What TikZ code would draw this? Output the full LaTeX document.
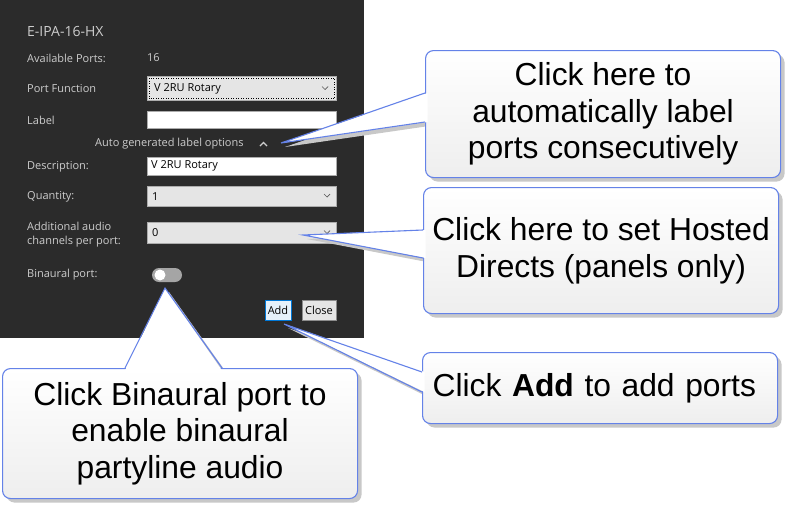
\documentclass[tikz,border=0pt]{standalone}
\usepackage{fontspec}
\setmainfont{Liberation Sans}
\newfontfamily\uifont{Open Sans}
\usetikzlibrary{shadows}
\definecolor{panelbg}{RGB}{43,43,43}
\definecolor{uitext}{RGB}{205,205,205}
\definecolor{calloutline}{RGB}{100,130,232}
\definecolor{boxbot}{RGB}{238,238,238}
\definecolor{combofill}{RGB}{229,229,229}
\definecolor{comboline}{RGB}{172,172,172}
\definecolor{addfill}{RGB}{229,241,251}
\definecolor{addline}{RGB}{0,120,215}
\definecolor{shadowgray}{RGB}{200,200,200}
\definecolor{togglegray}{RGB}{165,165,165}
\begin{document}
\begin{tikzpicture}[x=1pt,y=-1pt,
  lbl/.style={anchor=west, inner sep=0pt, text=uitext, font=\uifont\fontsize{11}{13}\selectfont},
  field/.style={anchor=north west, inner sep=0pt, fill=white, draw=comboline, line width=0.6pt},
  combo/.style={field, fill=combofill},
  fieldtext/.style={anchor=west, inner sep=0pt, text=black, font=\uifont\fontsize{11}{13}\selectfont},
  chev/.style={draw=black!65, line width=0.7pt},
  btn/.style={inner sep=0pt, minimum height=20pt, text=black, font=\uifont\fontsize{11}{13}\selectfont, line width=0.8pt},
  callbox/.style={anchor=north west, rounded corners=8pt, draw=calloutline, line width=1.1pt, top color=white, bottom color=boxbot, drop shadow={shadow xshift=4pt, shadow yshift=-4pt, fill=shadowgray, opacity=1}, align=center, font=\fontsize{31.8}{36.5}\selectfont, inner sep=0pt},
  ptrshadow/.style={fill=shadowgray},
  ptrfill/.style={fill=white},
  ptrline/.style={draw=calloutline, line width=1.1pt},
]
\useasboundingbox (0,0) rectangle (794,512);
\fill[white] (0,0) rectangle (794,512);
% dialog panel
\fill[panelbg] (0,0) rectangle (364,338);
\node[lbl, font=\uifont\fontsize{14}{16}\selectfont] (title) at (27,31) {E-IPA-16-HX};
\node[lbl] (avail) at (27,58) {Available Ports:};
\node[lbl] (availn) at (147,58) {16};
\node[lbl] (pflbl) at (27,89) {Port Function};
\node[combo, minimum width=189pt, minimum height=24pt] (pf) at (147,76) {};
\draw[dotted, black, line width=0.5pt] ([shift={(2,2)}]pf.north west) rectangle ([shift={(-2,-2)}]pf.south east);
\node[fieldtext] (pftxt) at (154,89) {V 2RU Rotary};
\draw[chev] (322,86.5) -- (325,89.5) -- (328,86.5);
\node[lbl] (labellbl) at (27,120) {Label};
\node[field, minimum width=189pt, minimum height=17pt] (labelbox) at (147,111) {};
\node[lbl] (auto) at (95,144) {Auto generated label options};
\draw[uitext, line width=1.3pt] (260,146) -- (263.5,142.5) -- (267,146);
\node[lbl] (desclbl) at (27,167) {Description:};
\node[field, minimum width=189pt, minimum height=18pt] (descbox) at (147,157) {};
\node[fieldtext] (desctxt) at (151,166) {V 2RU Rotary};
\node[lbl] (qtylbl) at (27,197) {Quantity:};
\node[combo, minimum width=189pt, minimum height=20pt] (qty) at (147,186) {};
\node[fieldtext] (qtytxt) at (152,196.5) {1};
\draw[chev] (324,194) -- (327,197) -- (330,194);
\node[lbl] (add1) at (27,226) {Additional audio};
\node[lbl] (add2) at (27,242) {channels per port:};
\node[combo, minimum width=189pt, minimum height=21pt] (chan) at (147,222) {};
\node[fieldtext] (chantxt) at (152,233) {0};
\draw[chev] (324,230.5) -- (327,233.5) -- (330,230.5);
\node[lbl] (binlbl) at (27,275) {Binaural port:};
\node[rounded corners=7pt, fill=togglegray, minimum width=30pt, minimum height=14pt, inner sep=0pt] (toggle) at (167,275) {};
\fill[white] (160,275) circle (5.5);
\node[btn, fill=addfill, draw=addline, minimum width=26pt] (addbtn) at (278,310) {Add};
\node[btn, fill=combofill, draw=black!45, minimum width=34pt] (closebtn) at (319,310) {Close};
% callout 1
\coordinate (tipA) at (281,143);
\fill[ptrshadow] (429,97) -- ([shift={(4,4)}]tipA) -- (429,126) -- cycle;
\node[callbox, minimum width=355pt, minimum height=127pt] (c1) at (425,50) {Click here to\\automatically label\\ports consecutively};
\fill[ptrfill] (427.5,93) -- (tipA) -- (427.5,122) -- cycle;
\draw[ptrline] (425,93) -- (tipA) -- (425,122);
% callout 2
\coordinate (tipB) at (303,235);
\fill[ptrshadow] (427,234) -- ([shift={(4,4)}]tipB) -- (427,262) -- cycle;
\node[callbox, minimum width=355pt, minimum height=126pt] (c2) at (423,187) {Click here to set Hosted\\Directs (panels only)};
\fill[ptrfill] (425.5,230) -- (tipB) -- (425.5,258) -- cycle;
\draw[ptrline] (423,230) -- (tipB) -- (423,258);
% callout 3
\coordinate (tipC) at (284,324);
\fill[ptrshadow] (426,376) -- ([shift={(4,4)}]tipC) -- (426,396) -- cycle;
\node[callbox, minimum width=355pt, minimum height=71pt, text width=335pt, align=left] (c3) at (422,352) {\raisebox{-3pt}{Click \textbf{Add} to add ports}};
\fill[ptrfill] (424.5,372) -- (tipC) -- (424.5,392) -- cycle;
\draw[ptrline] (422,372) -- (tipC) -- (422,392);
% callout 4
\coordinate (tipD) at (165,288);
\fill[ptrshadow] (129,372) -- ([shift={(4,4)}]tipD) -- (226,372) -- cycle;
\node[callbox, minimum width=355pt, minimum height=130pt] (c4) at (2,368) {Click Binaural port to\\enable binaural\\partyline audio};
\fill[ptrfill] (125,370.5) -- (tipD) -- (222,370.5) -- cycle;
\draw[ptrline] (125,368) -- (tipD) -- (222,368);
\end{tikzpicture}
\end{document}
